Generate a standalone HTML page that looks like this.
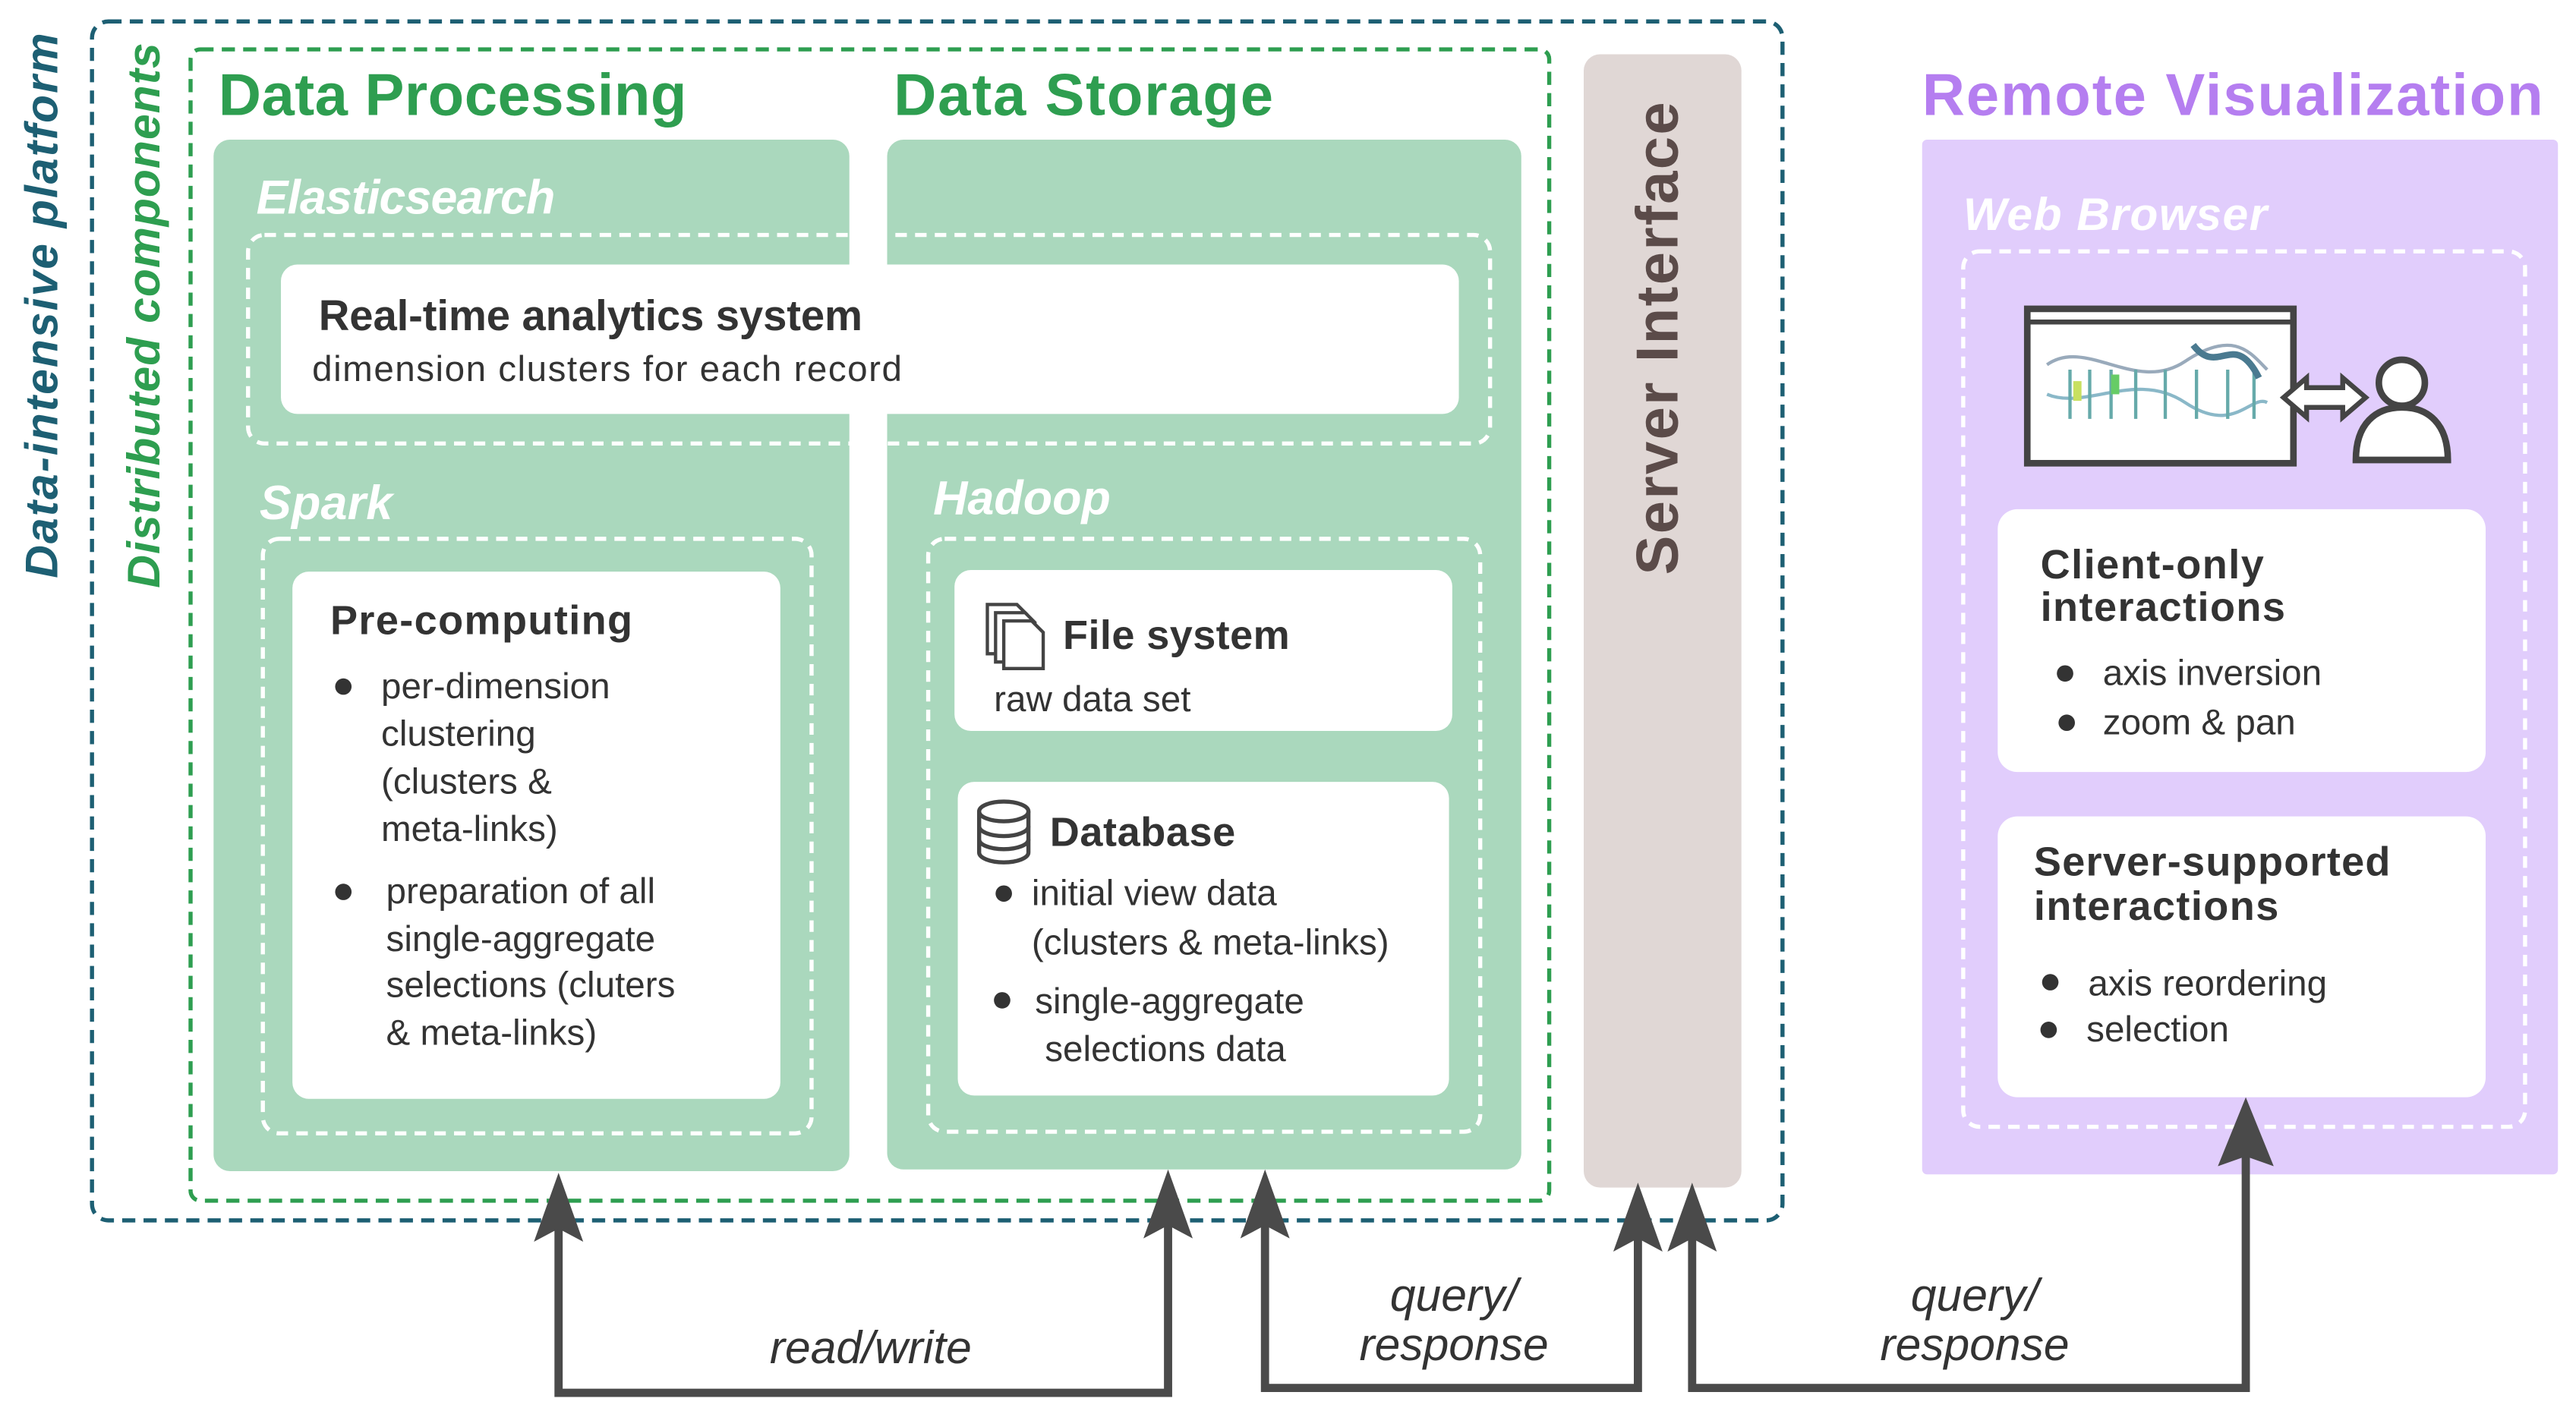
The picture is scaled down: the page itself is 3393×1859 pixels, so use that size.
<!DOCTYPE html>
<html><head><meta charset="utf-8"><style>html,body{margin:0;padding:0;background:#fff}svg{display:block}</style></head>
<body>
<svg width="3393" height="1859" viewBox="0 0 1568 859" xmlns="http://www.w3.org/2000/svg" font-family="'Liberation Sans', sans-serif">
<rect width="1568" height="859" fill="#fff"/>
<rect x="56" y="13" width="1029" height="730" rx="10" fill="none" stroke="#1d5f73" stroke-width="2.5" stroke-dasharray="8,5"/>
<rect x="116" y="30" width="827" height="701" rx="6" fill="none" stroke="#2e9e50" stroke-width="2.5" stroke-dasharray="8,5"/>
<text transform="translate(35,352) rotate(-90)" font-size="28" font-style="italic" font-weight="bold" fill="#1d5f73" textLength="332">Data-intensive platform</text>
<text transform="translate(97,358) rotate(-90)" font-size="28" font-style="italic" font-weight="bold" fill="#2e9e50" textLength="332">Distributed components</text>
<text x="133" y="70" font-size="36" font-weight="bold" fill="#2e9e50" textLength="285">Data Processing</text>
<text x="544" y="70" font-size="36" font-weight="bold" fill="#2e9e50" textLength="231">Data Storage</text>
<rect x="130" y="85" width="387" height="628" rx="10" fill="#aad8bd"/>
<rect x="540" y="85" width="386" height="627" rx="10" fill="#aad8bd"/>
<text x="156" y="130" font-size="29" font-style="italic" font-weight="bold" fill="#fff" textLength="182">Elasticsearch</text>
<rect x="151" y="143" width="756" height="127" rx="10" fill="none" stroke="#fff" stroke-width="2.5" stroke-dasharray="7,5"/>
<rect x="518" y="138" width="21" height="140" fill="#fff"/>
<rect x="171" y="161" width="717" height="91" rx="10" fill="#fff"/>
<text x="194" y="201" font-size="26" fill="#333" font-weight="bold" textLength="331">Real-time analytics system</text>
<text x="190" y="232" font-size="22" fill="#333" textLength="359">dimension clusters for each record</text>
<text x="158" y="316" font-size="29" font-style="italic" font-weight="bold" fill="#fff" textLength="81">Spark</text>
<rect x="160" y="328" width="334" height="362" rx="10" fill="none" stroke="#fff" stroke-width="2.5" stroke-dasharray="7,5"/>
<rect x="178" y="348" width="297" height="321" rx="10" fill="#fff"/>
<g fill="#333" font-size="22">
<text x="201" y="386" font-size="25" font-weight="bold" textLength="184">Pre-computing</text>
<circle cx="209" cy="418" r="5"/>
<text x="232" y="425">per-dimension</text>
<text x="232" y="454">clustering</text>
<text x="232" y="483">(clusters &amp;</text>
<text x="232" y="512">meta-links)</text>
<circle cx="209" cy="543" r="5"/>
<text x="235" y="550">preparation of all</text>
<text x="235" y="579">single-aggregate</text>
<text x="235" y="607">selections (cluters</text>
<text x="235" y="636">&amp; meta-links)</text>
</g>
<text x="568" y="313" font-size="29" font-style="italic" font-weight="bold" fill="#fff" textLength="108">Hadoop</text>
<rect x="565" y="328" width="336" height="361" rx="10" fill="none" stroke="#fff" stroke-width="2.5" stroke-dasharray="7,5"/>
<rect x="581" y="347" width="303" height="98" rx="10" fill="#fff"/>
<g fill="none" stroke="#444" stroke-width="2">
<path d="M601 368 h18 l6 6 v24 h-24 z"/><path d="M606 373 h18 l6 6 v24 h-24 z" fill="#fff"/><path d="M611 378 h17 l7 7 v22 h-24 z" fill="#fff"/>
</g>
<g fill="#333">
<text x="647" y="395" font-size="25" font-weight="bold" textLength="138">File system</text>
<text x="605" y="433" font-size="22">raw data set</text>
</g>
<rect x="583" y="476" width="299" height="191" rx="10" fill="#fff"/>
<g fill="none" stroke="#444" stroke-width="2.5">
<ellipse cx="611" cy="494" rx="15" ry="6"/>
<path d="M596 494 v25 a15 6 0 0 0 30 0 v-25"/>
<path d="M596 503 a15 6 0 0 0 30 0"/><path d="M596 511 a15 6 0 0 0 30 0"/>
</g>
<g fill="#333" font-size="22">
<text x="639" y="515" font-size="25" font-weight="bold" textLength="113">Database</text>
<circle cx="611" cy="544" r="5"/>
<text x="628" y="551">initial view data</text>
<text x="628" y="581">(clusters &amp; meta-links)</text>
<circle cx="610" cy="609" r="5"/>
<text x="630" y="617">single-aggregate</text>
<text x="636" y="646">selections data</text>
</g>
<rect x="964" y="33" width="96" height="690" rx="10" fill="#e0d7d5"/>
<text transform="translate(1021,350) rotate(-90)" font-size="36" font-weight="bold" fill="#5b4b49" textLength="288">Server Interface</text>
<text x="1170" y="70" font-size="36" font-weight="bold" fill="#b57ef0" textLength="378">Remote Visualization</text>
<rect x="1170" y="85" width="387" height="630" rx="3" fill="#e1cdfc"/>
<text x="1195" y="140" font-size="28" font-style="italic" font-weight="bold" fill="#fff" textLength="185">Web Browser</text>
<rect x="1195" y="153" width="342" height="533" rx="10" fill="none" stroke="#fff" stroke-width="2.5" stroke-dasharray="7,5"/>
<rect x="1234" y="188" width="162" height="94" fill="#fff" stroke="#444" stroke-width="4"/>
<line x1="1234" y1="196" x2="1396" y2="196" stroke="#444" stroke-width="3"/>
<g stroke-width="2" fill="none">
<path d="M1246 222 C1270 205,1300 240,1330 220 S1370 215,1380 225" stroke="#9ab"/>
<path d="M1246 240 C1270 250,1300 225,1330 245 S1370 240,1380 245" stroke="#8ab8c8"/>
<path d="M1260 225 v30 M1272 225 v30 M1285 225 v30 M1300 225 v30 M1318 225 v30 M1337 225 v30 M1356 225 v30 M1372 225 v30" stroke="#6aa" />
<path d="M1335 210 C1350 230,1360 200,1375 230" stroke="#4a7a90" stroke-width="4"/>
<rect x="1262" y="232" width="5" height="12" fill="#c8e060" stroke="none"/>
<rect x="1285" y="228" width="5" height="12" fill="#6c6" stroke="none"/>
</g>
<path d="M1390 242 l14 -12 v6 h22 v-6 l14 12 l-14 12 v-6 h-22 v6 z" fill="#fff" stroke="#444" stroke-width="3"/>
<circle cx="1462" cy="233" r="14" fill="#fff" stroke="#444" stroke-width="4"/>
<path d="M1434 280 c0 -22 12 -32 28 -32 s28 10 28 32 z" fill="#fff" stroke="#444" stroke-width="4"/>
<rect x="1216" y="310" width="297" height="160" rx="12" fill="#fff"/>
<g fill="#333" font-size="22">
<text x="1242" y="352" font-size="25" font-weight="bold" textLength="136">Client-only</text>
<text x="1242" y="378" font-size="25" font-weight="bold" textLength="149">interactions</text>
<circle cx="1257" cy="410" r="5"/><text x="1280" y="417">axis inversion</text>
<circle cx="1258" cy="440" r="5"/><text x="1280" y="447">zoom &amp; pan</text>
</g>
<rect x="1216" y="497" width="297" height="171" rx="12" fill="#fff"/>
<g fill="#333" font-size="22">
<text x="1238" y="533" font-size="25" font-weight="bold" textLength="217">Server-supported</text>
<text x="1238" y="560" font-size="25" font-weight="bold" textLength="149">interactions</text>
<circle cx="1248" cy="598" r="5"/><text x="1271" y="606">axis reordering</text>
<circle cx="1247" cy="627" r="5"/><text x="1270" y="634">selection</text>
</g>
<g fill="none" stroke="#4a4a4a" stroke-width="5">
<path d="M340 740 V848 H711 V740"/>
<path d="M770 740 V845 H997 V745"/>
<path d="M1030 745 V845 H1367 V690"/>
</g>
<g fill="#4a4a4a">
<path d="M340 714 l-15 42 l15 -8 l15 8 z"/>
<path d="M711 712 l-15 42 l15 -8 l15 8 z"/>
<path d="M770 712 l-15 42 l15 -8 l15 8 z"/>
<path d="M997 720 l-15 42 l15 -8 l15 8 z"/>
<path d="M1030 720 l-15 42 l15 -8 l15 8 z"/>
<path d="M1367 668 l-17 42 l17 -6 l17 6 z"/>
</g>
<g fill="#333" font-size="28" font-style="italic" text-anchor="middle">
<text x="530" y="830">read/write</text>
<text x="885" y="798">query/</text>
<text x="885" y="828">response</text>
<text x="1202" y="798">query/</text>
<text x="1202" y="828">response</text>
</g>
</svg>
</body></html>
